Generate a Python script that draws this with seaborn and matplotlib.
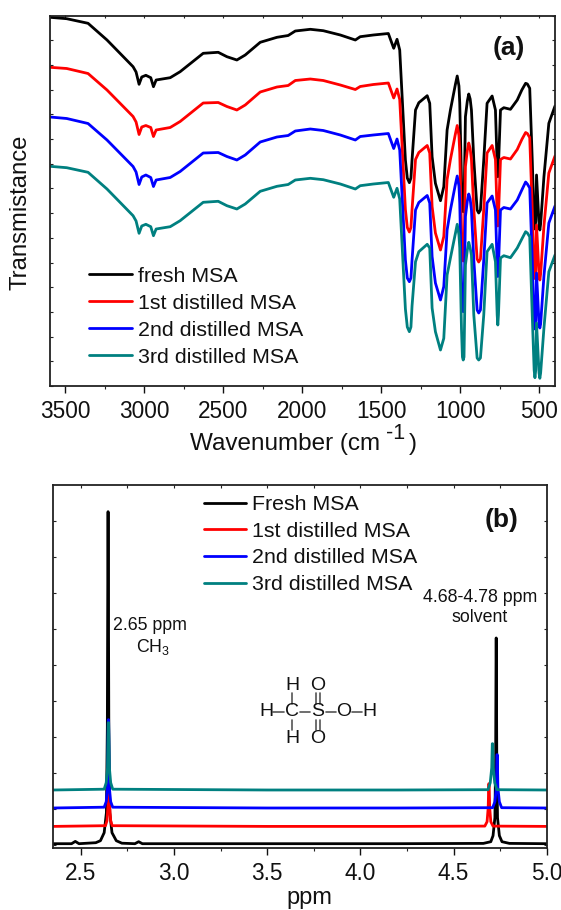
#%% packages
import matplotlib
matplotlib.use("Agg")
import matplotlib.pyplot as plt
from matplotlib.lines import Line2D
from matplotlib.ticker import MultipleLocator, FixedLocator, NullFormatter
import seaborn as sns

#%% FTIR data
wavenumber = [3597, 3491, 3356, 3236, 3071, 3052, 3033, 3016, 2990, 2959, 2942, 2925, 2836, 2773, 2627,
              2532, 2477, 2414, 2361, 2266, 2160, 2089, 2044, 1949, 1867, 1759, 1664, 1633, 1550, 1455,
              1421, 1400, 1383,
              1347, 1335, 1322, 1312, 1305, 1283, 1262, 1209, 1193, 1178, 1157, 1125, 1104, 1083, 1062,
              1030, 1019, 1008, 1003, 992, 986, 981, 976, 967, 955, 946, 937, 929, 914, 893, 883, 872,
              851, 830, 798, 777, 766, 762, 758, 745, 724, 682, 639, 610, 586, 575, 560, 544,
              532, 527, 522, 517, 501, 496, 491, 470, 439, 400]
ftir_fresh = [368.7, 367.3, 362.7, 346, 319.3, 314, 301.7, 309, 310.7, 308.3, 299.3, 306, 308.3, 314.3, 332.7,
              333.7, 329.3, 326, 331, 343.7, 348.7, 350.5, 355, 356.7, 355.3, 351, 346, 349.3, 351, 352.5,
              337.7, 346.7, 336,
              226, 208, 203.3, 208, 226, 276, 283.3, 290.3, 282.7, 229.3, 202.7, 185.3, 199.3, 256, 276,
              302, 310, 300, 283, 206, 178, 174.3, 178, 269.3, 285, 292, 287, 276, 226, 176, 173, 176,
              226, 282.7, 290, 276, 220, 209.3, 220, 276, 278.3, 276.7, 286, 296, 302.7, 302, 297.7, 226,
              165, 157, 165, 211, 162, 156, 162, 209.3, 262.7, 280]
ftir_1st = [318.7, 317.5, 312.5, 296, 269.5, 264, 251.5, 259, 260.5, 258.5, 249.5, 256, 258.5, 264.5, 283,
            283.5, 279.5, 276, 281, 294, 299, 300.5, 305.5, 307, 305.5, 301, 296.5, 299.5, 301.5, 303,
            288, 297, 286.5,
            176.5, 158.5, 154, 158.5, 176.5, 226.5, 233.5, 240.5, 233, 179.5, 153, 136, 149.5, 206.5, 226.5,
            252.5, 260.5, 250.5, 233.5, 156.5, 128.5, 125, 128.5, 219.5, 235.5, 243, 237.5, 226.5, 176.5, 127, 124, 127,
            176.5, 233, 240.5, 226.5, 170.5, 160, 170.5, 226.5, 228.5, 227, 236.5, 246.5, 253.5, 252.5, 248.5, 176.5,
            115.5, 107.5, 115.5, 161, 112, 106, 112, 160, 213, 230]
ftir_2nd = [269, 267.5, 262.5, 246, 219.5, 214, 201.5, 209, 211, 208.5, 199.5, 206, 208.5, 214.5, 233,
            233.5, 229.5, 226, 231, 244, 249, 250.5, 255, 257, 255.5, 251, 246, 249.5, 251, 252.5,
            237.5, 247, 236,
            126, 108, 104.3, 108, 126, 176, 183.5, 190.5, 183, 129.5, 103, 86, 99.5, 156, 176,
            202, 210, 200, 183, 106, 78, 74.3, 78, 169.5, 185, 192, 187, 176, 126, 76, 73, 76,
            126, 183, 190, 176, 120, 109.5, 120, 176, 178.5, 177, 186, 196, 204, 202, 198, 126,
            65, 57, 65, 113, 62, 58, 62, 110, 163, 180]
ftir_3rd = [219.7, 218.3, 213.7, 197, 170.3, 165, 152.7, 160, 161.7, 159.3, 150.3, 157, 159.3, 165.3, 183.7,
            184.7, 180.3, 177, 182, 194.7, 199.7, 201.5, 206, 207.7, 206.3, 202, 197, 200.3, 202, 203.5,
            188.7, 197.7, 187,
            77, 59, 54.3, 59, 80, 124.3, 134.3, 141.7, 138, 78, 54.3, 36, 47.7, 111, 128,
            153, 161.7, 151, 138, 57, 29, 26, 29, 121, 136, 143.7, 138, 131, 71, 28, 26, 28,
            71, 134.3, 141.7, 124.3, 71, 61, 71, 128, 130.3, 128.3, 138, 147, 154.3, 153, 149.3, 71,
            16, 8.3, 16, 63, 13, 7.7, 13, 58, 114.3, 131]

#%% NMR data
ppm_fresh = [2.35, 2.45, 2.47, 2.49, 2.58, 2.605, 2.625, 2.637, 2.642, 2.6455, 2.6465, 2.65, 2.655, 2.667, 2.69, 2.72,
             2.79, 2.81, 2.83, 3.2, 4.2, 4.66, 4.70, 4.712, 4.722, 4.726, 4.7285, 4.7295, 4.732, 4.736, 4.746, 4.76, 4.8, 5.0]
nmr_fresh = [4, 4, 6.3, 4, 5, 7, 15, 35, 120, 336, 336, 120, 35, 15, 7, 4.5,
             4, 6, 4, 4, 4, 4.3, 6, 12, 30, 90, 209.7, 209.7, 90, 30, 12, 6, 4.3, 4]
ppm_1st = [2.35, 2.632, 2.64, 2.645, 2.649, 2.651, 2.655, 2.66, 2.668, 3.5, 4.2,
           4.668, 4.68, 4.686, 4.689, 4.691, 4.694, 4.70, 4.712, 5.0]
nmr_1st = [21.3, 22, 27, 40, 55, 55, 40, 27, 22, 21.3, 21.3,
           21.6, 26, 40, 64, 64, 40, 26, 21.6, 21.3]
ppm_2nd = [2.35, 2.625, 2.636, 2.644, 2.647, 2.649, 2.652, 2.66, 2.671, 3.5, 4.2,
           4.71, 4.722, 4.73, 4.733, 4.735, 4.738, 4.746, 4.758, 5.0]
nmr_2nd = [39.7, 40.5, 46, 62, 128, 128, 62, 46, 40.5, 39.7, 39.7,
           40, 46, 60, 93, 93, 60, 46, 40, 39.7]
ppm_3rd = [2.35, 2.625, 2.636, 2.643, 2.647, 2.649, 2.653, 2.66, 2.671, 3.5, 4.2,
           4.685, 4.697, 4.705, 4.708, 4.71, 4.713, 4.721, 4.733, 5.0]
nmr_3rd = [57.7, 58.5, 65, 80, 125, 125, 80, 65, 58.5, 57.7, 57.7,
           58, 65, 80, 104, 104, 80, 65, 58, 57.7]

labels_a = ["fresh MSA", "1st distilled MSA", "2nd distilled MSA", "3rd distilled MSA"]
labels_b = ["Fresh MSA", "1st distilled MSA", "2nd distilled MSA", "3rd distilled MSA"]
colors = ["black", "#ff0000", "#0000ff", "#008080"]

#%% figure
sns.set_theme(style="ticks")
plt.rcParams["font.family"] = ["Liberation Sans", "DejaVu Sans"]
plt.rcParams["mathtext.fontset"] = "custom"
plt.rcParams["mathtext.rm"] = "Liberation Sans"
plt.rcParams["mathtext.default"] = "regular"
plt.rcParams["text.color"] = "#111111"

W, H = 561, 910
fig = plt.figure(figsize=(W / 100, H / 100), dpi=100, facecolor="white")


def box(left, top, right, bottom):
    return [left / W, 1 - bottom / H, (right - left) / W, (bottom - top) / H]


def ptext(x, y, s, **kw):
    kw.setdefault("ha", "center")
    kw.setdefault("va", "center")
    fig.text(x / W, 1 - y / H, s, **kw)


ax1 = fig.add_axes(box(49.5, 15.5, 555, 386))
ax2 = fig.add_axes(box(53.3, 485, 546.7, 847.7))

for vals, lab, col in zip([ftir_fresh, ftir_1st, ftir_2nd, ftir_3rd], labels_a, colors):
    sns.lineplot(x=wavenumber, y=vals, ax=ax1, color=col, lw=2.0, label=lab, sort=False, errorbar=None)

for xs, vals, lab, col in zip([ppm_fresh, ppm_1st, ppm_2nd, ppm_3rd],
                              [nmr_fresh, nmr_1st, nmr_2nd, nmr_3rd], labels_b, colors):
    sns.lineplot(x=xs, y=vals, ax=ax2, color=col, lw=2.0, label=lab, sort=False, errorbar=None)

ax1.set_xlim(3600, 400)
ax1.set_ylim(0, 370.5)
ax1.xaxis.set_major_locator(MultipleLocator(500))
ax1.xaxis.set_minor_locator(MultipleLocator(250))
ax1.yaxis.set_major_locator(MultipleLocator(24.7))

ax2.set_xlim(2.352, 5.0)
ax2.set_ylim(0, 362.7)
ax2.xaxis.set_major_locator(MultipleLocator(0.5))
ax2.xaxis.set_minor_locator(MultipleLocator(0.25))
ax2.yaxis.set_major_locator(FixedLocator([2.7 + 36 * k for k in range(10)]))

for ax in [ax1, ax2]:
    ax.yaxis.set_major_formatter(NullFormatter())
    ax.set_xlabel("")
    ax.set_ylabel("")
    for side, sp in ax.spines.items():
        sp.set_visible(True)
        sp.set_color("#222222")
        sp.set_linewidth(1.3)
    ax.tick_params(axis="x", which="major", direction="out", length=5, width=1, labelsize=16.3, pad=5, colors="#111111")
    ax.tick_params(axis="x", which="minor", direction="out", length=2, width=0.8, color="#222222")
    ax.tick_params(axis="y", which="major", direction="in", length=2.5, width=0.8, left=True, right=True, color="#222222")

# top ticks on their own, they point inwards
for ax, ticks in [(ax1, [3500, 3250, 3000, 2750, 2500, 2250, 2000, 1750, 1500, 1250, 1000, 750, 500]),
                  (ax2, [2.5, 2.75, 3.0, 3.25, 3.5, 3.75, 4.0, 4.25, 4.5, 4.75])]:
    top = ax.secondary_xaxis("top")
    top.set_xticks(ticks)
    top.tick_params(direction="in", length=2, width=0.8, labeltop=False, color="#222222")
    top.spines["top"].set_visible(False)

ax1.legend(loc="upper left", bbox_to_anchor=((89 - 49.5) / 505.5, 1 - (266.5 - 15.5) / 370.5), frameon=False,
           fontsize=15.4, labelspacing=0.38, handlelength=2.0, handletextpad=0.3, borderpad=0, borderaxespad=0)
ax2.legend(loc="upper left", bbox_to_anchor=((204 - 53.3) / 493.4, 1 - (495 - 485) / 362.7), frameon=False,
           fontsize=15.4, labelspacing=0.36, handlelength=1.95, handletextpad=0.3, borderpad=0, borderaxespad=0)

#%% texts
ptext(21, 212, "Transmistance", rotation=90, fontsize=17.2)
ptext(190, 450, "Wavenumber (cm", ha="left", va="baseline", fontsize=17.5)
ptext(386, 439, "-1", ha="left", va="baseline", fontsize=15.5)
ptext(408.5, 450, ")", ha="left", va="baseline", fontsize=17.5)
ptext(309, 898, "ppm", fontsize=17)
ptext(509, 48, "(a)", fontsize=19, fontweight="bold")
ptext(502, 520, "(b)", fontsize=19, fontweight="bold")
ptext(149.7, 625, "2.65 ppm", fontsize=12.8)
ptext(153, 647, "CH$_3$", fontsize=12.8)
ptext(480, 597, "4.68-4.78 ppm", fontsize=12.8)
ptext(480, 618, "solvent", fontsize=12.8)

#%% structure of MSA
atoms = [("H", 292, 685.5), ("H", 266, 712), ("C", 292, 712), ("H", 292, 738.5), ("S", 318, 712),
         ("O", 318, 685.5), ("O", 318, 738.5), ("O", 344, 712), ("H", 369, 712)]
for sym, x, y in atoms:
    ptext(x, y, sym, fontsize=14)
bonds = [(273, 712, 284, 712), (292, 693, 292, 704), (292, 720, 292, 730), (300, 712, 310, 712),
         (326, 712, 336, 712), (352, 712, 362, 712),
         (316, 693, 316, 704), (320, 693, 320, 704), (316, 720, 316, 730), (320, 720, 320, 730)]
for x0, y0, x1, y1 in bonds:
    fig.add_artist(Line2D([x0 / W, x1 / W], [1 - y0 / H, 1 - y1 / H], color="#555555", lw=1.2))

fig.savefig("out.png", dpi=100)
